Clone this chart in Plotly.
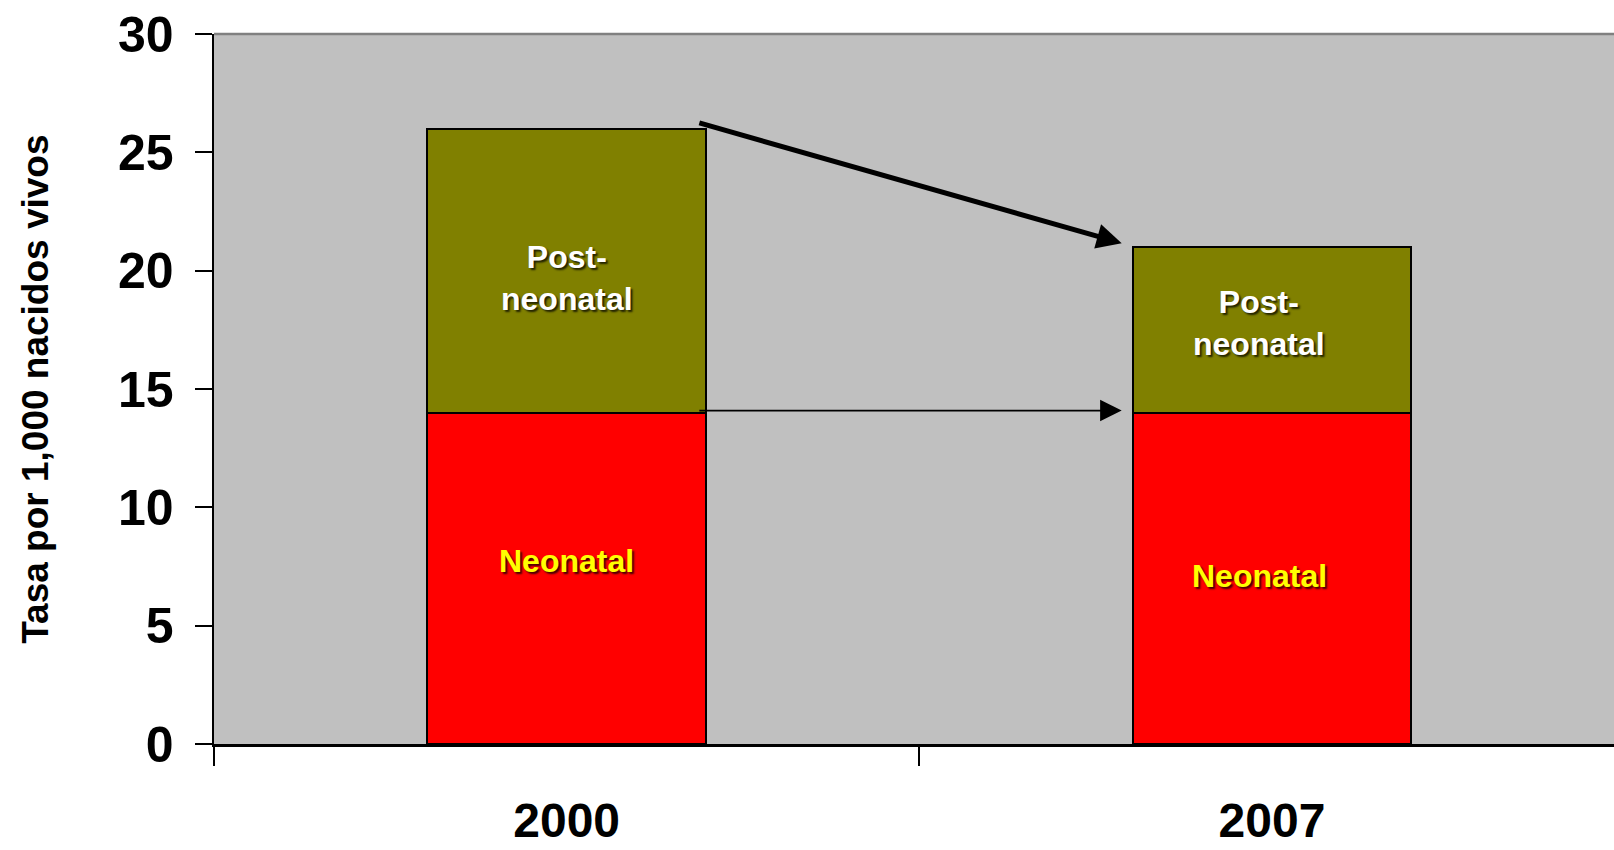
import plotly.graph_objects as go

# ---- data ----
years = ["2000", "2007"]
neonatal = [14, 14]
post_neonatal = [12, 7]
neonatal_labels = ["Neonatal", "Neonatal"]
post_labels = ["Post-<br>neonatal", "Post-<br>neonatal"]
y_ticks = [0, 5, 10, 15, 20, 25, 30]
y_title = "Tasa por 1,000 nacidos vivos"

FONT = "Liberation Sans, Arial, sans-serif"
SHADOW = "2px 2px 2px rgba(0,0,0,0.75)"

totals = [a + b for a, b in zip(neonatal, post_neonatal)]

fig = go.Figure()
fig.add_trace(go.Bar(
    x=years, y=neonatal, name="Neonatal", width=0.395,
    marker=dict(color="#FF0000", line=dict(color="black", width=2)),
))
fig.add_trace(go.Bar(
    x=years, y=post_neonatal, name="Post-neonatal", width=0.395,
    marker=dict(color="#808000", line=dict(color="black", width=2)),
))

# segment labels (placed inside each segment)
post_label_y = [totals[0] - 6.3, totals[1] - 3.2]
neo_label_y = [neonatal[0] - 6.27, neonatal[1] - 6.92]
label_dx = [0.0, -0.018]
for i, yr in enumerate(years):
    fig.add_annotation(
        x=i + label_dx[i], y=post_label_y[i], xref="x", yref="y", text=post_labels[i],
        showarrow=False, xanchor="center", yanchor="middle",
        font=dict(family=FONT, size=32, color="white", weight="bold", shadow=SHADOW),
    )
    fig.add_annotation(
        x=i + label_dx[i], y=neo_label_y[i], xref="x", yref="y", text=neonatal_labels[i],
        showarrow=False, xanchor="center", yanchor="middle",
        font=dict(family=FONT, size=32, color="#FFFF00", weight="bold", shadow=SHADOW),
    )

# arrows: derived from bar tops
bar_half = 0.2
fig.add_annotation(
    x=1 - bar_half - 0.013, y=totals[1] + 0.16, xref="x", yref="y",
    ax=0 + bar_half - 0.014, ay=totals[0] + 0.26, axref="x", ayref="y",
    text="", showarrow=True, arrowhead=2, arrowsize=1.0, arrowwidth=5,
    arrowcolor="black", standoff=0, startstandoff=0,
)
fig.add_annotation(
    x=1 - bar_half - 0.013, y=neonatal[1] + 0.09, xref="x", yref="y",
    ax=0 + bar_half - 0.014, ay=neonatal[0] + 0.09, axref="x", ayref="y",
    text="", showarrow=True, arrowhead=2, arrowsize=2.4, arrowwidth=1.8,
    arrowcolor="black", standoff=0, startstandoff=0,
)

# y axis title
fig.add_annotation(
    text=y_title, xref="paper", yref="paper", x=-0.128, y=0.5,
    xanchor="center", yanchor="middle", textangle=-90, showarrow=False,
    font=dict(family=FONT, size=37, color="black", weight="bold"),
)

# top border of plot area
fig.add_shape(type="line", xref="paper", yref="paper", x0=0, x1=1, y0=1, y1=1,
              line=dict(color="#808080", width=2.5))

fig.update_layout(
    barmode="stack",
    width=1614, height=850,
    margin=dict(l=214, r=0, t=34, b=106, autoexpand=False),
    paper_bgcolor="white", plot_bgcolor="#C0C0C0",
    showlegend=False,
    font=dict(family=FONT, color="black"),
    xaxis=dict(
        type="category", range=[-0.5, 1.485], automargin=False,
        showline=True, linecolor="black", linewidth=2.5,
        ticks="outside", tickson="boundaries", ticklen=19, tickwidth=2, tickcolor="black",
        tickfont=dict(family=FONT, size=48, color="black", weight="bold"),
        ticklabelstandoff=33, ticklabeloverflow="allow",
        showgrid=False, zeroline=False, fixedrange=True,
    ),
    yaxis=dict(
        range=[0, 30], tickvals=y_ticks, automargin=False,
        showline=True, linecolor="black", linewidth=2.5,
        ticks="outside", ticklen=17, tickwidth=2, tickcolor="black",
        tickfont=dict(family=FONT, size=50, color="black", weight="bold"),
        ticklabelstandoff=11, ticklabeloverflow="allow",
        showgrid=False, zeroline=False, fixedrange=True,
    ),
)

fig.write_html(
    "out.html",
    config={"displayModeBar": False, "staticPlot": True},
    post_script="document.body.style.margin='0';document.body.style.overflow='hidden';",
)
